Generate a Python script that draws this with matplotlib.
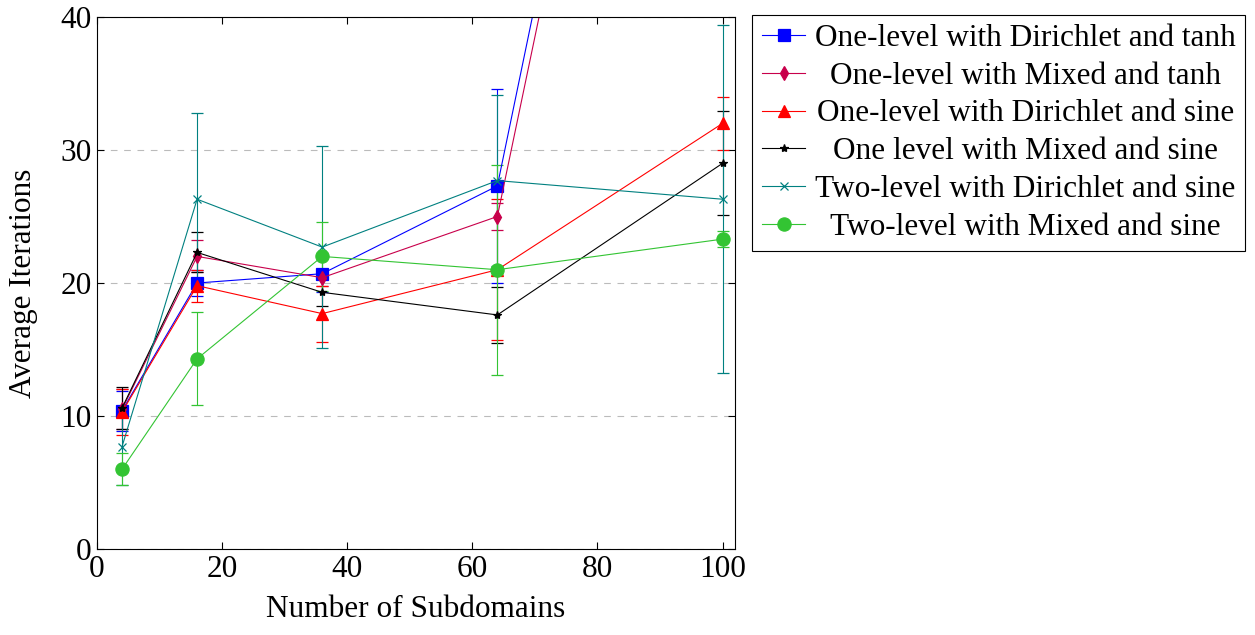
import matplotlib.pyplot as plt
import numpy as np

plt.rcParams['font.family'] = ['Liberation Serif', 'DejaVu Serif']
plt.rcParams['mathtext.fontset'] = 'stix'

# data
subdomains = [4, 16, 36, 64, 100]

labels = ['One-level with Dirichlet and tanh',
          'One-level with Mixed and tanh',
          'One-level with Dirichlet and sine',
          'One level with Mixed and sine',
          'Two-level with Dirichlet and sine',
          'Two-level with Mixed and sine']

dir_tanh = [10.4, 20.0, 20.7, 27.3, 109.0]
dir_tanh_err = [1.5, 1.0, 1.4, 7.3, 5.0]
mix_tanh = [10.5, 22.0, 20.4, 25.0, 106.0]
mix_tanh_err = [1.5, 1.2, 0.6, 1.0, 5.0]
dir_sine = [10.3, 19.8, 17.7, 21.0, 32.0]
dir_sine_err = [1.7, 1.2, 2.1, 5.3, 2.0]
mix_sine = [10.6, 22.3, 19.3, 17.6, 29.0]
mix_sine_err = [1.6, 1.5, 1.0, 2.1, 3.9]
two_dir_sine = [7.7, 26.3, 22.7, 27.7, 26.3]
two_dir_sine_err = [2.9, 6.5, 7.6, 6.4, 13.1]
two_mix_sine = [6.0, 14.3, 22.0, 21.0, 23.3]
two_mix_sine_err = [1.2, 3.5, 2.6, 7.9, 0.6]

series = [dir_tanh, mix_tanh, dir_sine, mix_sine, two_dir_sine, two_mix_sine]
errors = [dir_tanh_err, mix_tanh_err, dir_sine_err, mix_sine_err,
          two_dir_sine_err, two_mix_sine_err]
colors = ['#0000ff', '#c8004b', '#ff0000', '#000000', '#008080', '#33c433']
markers = ['s', 'd', '^', '*', 'x', 'o']
msizes = [8.5, 7, 8.5, 6, 6, 9.5]

fig = plt.figure(figsize=(12.55, 6.35), dpi=100)
ax = fig.add_axes([0.0773, 0.1354, 0.5084, 0.8378])

handles = []
for y, e, c, m, ms, lab in zip(series, errors, colors, markers, msizes, labels):
    cont = ax.errorbar(subdomains, y, yerr=e, color=c, marker=m, markersize=ms,
                       linewidth=0.8, elinewidth=0.8, capsize=4.5, capthick=0.8,
                       markeredgewidth=0.9, label=lab, ecolor=c)
    handles.append(cont.lines[0])

ax.set_xlim(0, 102)
ax.set_ylim(0, 40)
ax.set_xticks([0, 20, 40, 60, 80, 100])
ax.set_yticks([0, 10, 20, 30, 40])
ax.tick_params(direction='in', top=True, right=True, labelsize=22.5, length=5, pad=4)
ax.yaxis.grid(True, linestyle=(0, (6, 6)), color='#bbbbbb', linewidth=0.8)
ax.set_axisbelow(True)
for s in ax.spines.values():
    s.set_linewidth(0.8)

ax.set_xlabel('Number of Subdomains', fontsize=22.5, labelpad=8)
ax.set_ylabel('Average Iterations', fontsize=22.5, labelpad=16)

leg = ax.legend(handles=handles, labels=labels, loc='upper left',
                bbox_to_anchor=(0.5995, 0.977),
                bbox_transform=fig.transFigure, fontsize=22.5, frameon=True,
                fancybox=False, edgecolor='black', framealpha=1,
                handlelength=1.4, handletextpad=0.3, borderpad=0.3,
                labelspacing=0.28, borderaxespad=0)
leg.get_frame().set_linewidth(0.8)

# center the legend texts like pgfplots does
fig.canvas.draw()
widths = [t.get_window_extent().width for t in leg.get_texts()]
wmax = max(widths)
for t, w in zip(leg.get_texts(), widths):
    t.set_position(((wmax - w) / 2.0, 0))

plt.savefig('out.png', dpi=100)
